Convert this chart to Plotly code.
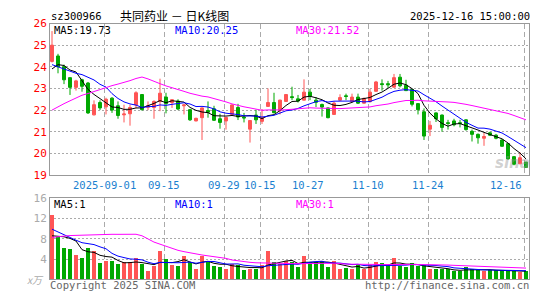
import plotly.graph_objects as go
import numpy as np

# ---------------- data ----------------
open_ = [24.25, 24.5, 24.0, 23.5, 23.05, 23.4, 23.25, 21.78, 22.35, 22.15,
         22.55, 22.2, 21.78, 21.83, 22.24, 22.72, 22.13, 22.12, 22.4, 22.6,
         22.35, 22.42, 22.2, 22.02, 21.5, 21.65, 21.98, 22.06, 21.6, 21.5,
         21.8, 22.12, 21.68, 21.12, 21.77, 21.48, 22.17, 22.35, 21.98, 22.4,
         22.62, 22.52, 22.46, 22.83, 22.46, 22.26, 22.1, 21.8, 22.46, 22.66,
         22.4, 22.6, 22.32, 22.39, 22.87, 23.22, 23.22, 23.06, 23.52, 23.15,
         22.95, 22.3, 21.92, 21.12, 21.87, 21.77, 21.42, 21.5, 21.42, 21.55,
         21.02, 20.88, 20.7, 20.95, 20.84, 20.62, 20.45, 19.85, 19.52, 19.6]
high = [25.65, 24.6, 24.1, 23.5, 23.4, 23.45, 23.3, 22.45, 22.45, 22.57,
        22.6, 22.4, 22.25, 22.25, 22.87, 22.72, 22.4, 22.45, 23.45, 22.8,
        22.5, 22.5, 22.28, 22.05, 21.65, 22.12, 22.4, 22.2, 21.83, 21.68,
        22.26, 22.29, 21.87, 21.54, 22.02, 22.05, 23.0, 22.8, 22.48, 22.74,
        23.08, 22.7, 23.42, 22.98, 22.6, 22.3, 22.12, 22.4, 22.73, 22.76,
        22.76, 22.76, 22.58, 22.98, 23.35, 23.42, 23.35, 23.67, 23.67, 23.4,
        22.98, 22.32, 22.08, 21.5, 21.9, 21.8, 21.55, 21.6, 21.55, 21.58,
        21.1, 20.92, 20.95, 21.0, 20.9, 20.65, 20.48, 19.88, 20.05, 19.6]
low = [24.2, 23.7, 23.2, 22.7, 22.9, 22.85, 21.82, 21.75, 22.0, 21.8,
       21.87, 21.6, 21.43, 21.28, 22.1, 21.98, 22.0, 21.6, 21.95, 21.85,
       22.1, 22.0, 21.8, 21.5, 21.48, 20.62, 21.65, 21.5, 21.14, 21.1,
       21.78, 21.54, 21.43, 20.5, 21.36, 21.36, 22.15, 21.85, 21.8, 22.38,
       22.46, 22.35, 22.45, 22.46, 22.14, 21.7, 21.62, 21.78, 22.42, 22.46,
       22.38, 22.28, 22.3, 22.35, 22.85, 22.9, 23.02, 23.03, 23.05, 22.88,
       22.17, 21.8, 20.62, 20.8, 21.45, 21.0, 21.1, 21.25, 21.2, 21.05,
       20.55, 20.45, 20.35, 20.8, 20.65, 20.3, 19.7, 19.45, 19.5, 19.33]
close = [25.0, 24.0, 23.4, 23.05, 23.35, 23.1, 21.87, 22.25, 22.1, 22.5,
         22.0, 21.75, 21.82, 22.12, 22.8, 22.02, 22.2, 22.4, 22.78, 22.3,
         22.48, 22.05, 22.24, 21.55, 21.62, 22.1, 21.9, 21.53, 21.43, 21.66,
         22.24, 21.68, 21.64, 21.52, 21.55, 21.65, 22.35, 21.88, 22.46, 22.72,
         22.58, 22.42, 22.83, 22.65, 22.36, 22.14, 21.65, 22.32, 22.58, 22.63,
         22.6, 22.32, 22.54, 22.83, 23.3, 23.18, 23.17, 23.5, 23.12, 22.9,
         22.27, 22.02, 20.8, 21.3, 21.6, 21.2, 21.38, 21.32, 21.38, 21.1,
         20.88, 20.72, 20.78, 20.84, 20.7, 20.33, 19.75, 19.5, 19.8, 19.35]
# closes of the 29 sessions before the window (only used for the moving averages)
prior_close = [19.2, 19.3, 19.1, 19.4, 19.3, 19.5, 19.4, 19.6, 19.5, 19.4,
               19.6, 19.7, 19.5, 19.8, 20.0, 24.8, 26.2, 25.6, 25.4, 24.7,
               25.0, 24.6, 24.2, 24.0, 23.7, 23.0, 23.6, 24.1, 23.8]
volume = [12.6, 8.3, 6.2, 6.0, 4.7, 4.1, 6.2, 5.6, 3.1, 3.5,
          3.5, 2.9, 3.3, 3.3, 4.1, 2.9, 1.6, 2.6, 5.6, 3.9,
          2.8, 2.6, 4.5, 3.3, 2.0, 4.5, 3.5, 2.5, 2.4, 2.0,
          3.0, 2.8, 1.8, 2.0, 2.0, 2.8, 5.5, 3.3, 2.9, 3.6,
          3.4, 2.4, 4.5, 3.3, 3.3, 3.5, 2.4, 3.6, 2.0, 2.2,
          1.9, 3.0, 2.0, 2.7, 3.4, 3.2, 2.8, 4.1, 2.6, 2.3,
          3.1, 2.5, 2.8, 2.0, 1.9, 1.9, 1.9, 1.6, 1.6, 2.3,
          2.0, 1.8, 1.6, 1.8, 1.8, 1.7, 1.8, 1.6, 1.4, 1.5]
prior_volume = [3.0, 3.5, 2.8, 3.2, 3.6, 3.0, 3.4, 2.9, 3.3, 3.8,
                3.1, 3.5, 3.2, 3.5, 12.0, 19.5, 22.0, 18.0, 16.5, 15.2,
                14.0, 12.5, 11.0, 9.5, 9.0, 8.5, 7.0, 7.6, 7.3]
tick_index = [9, 19, 29, 35, 43, 53, 63, 79]
tick_text = ["2025-09-01", "09-15", "09-29", "10-15", "10-27", "11-10", "11-24", "12-16"]
price_ticks = [19, 20, 21, 22, 23, 24, 25, 26]
vol_ticks = [4, 8, 12, 16]

# ---------------- derived ----------------
n = len(close)
idx = np.arange(n)


def moving_avg(prior, vals, w):
    s = np.array(prior + vals, dtype=float)
    out = np.convolve(s, np.ones(w) / w, mode="valid")
    return out[-len(vals):]


ma5, ma10, ma30 = (moving_avg(prior_close, close, w) for w in (5, 10, 30))
vma5, vma10, vma30 = (moving_avg(prior_volume, volume, w) for w in (5, 10, 30))

RED = "#ff5555"
GREEN = "#00a800"
bar_colors = [RED if c >= o else GREEN for o, c in zip(open_, close)]

W, H = 545, 300
L_PX, R_PX = 50, 529
px = lambda x: x / W
py = lambda y: 1 - y / H

MONO = "DejaVu Sans Mono"
CJK = "Noto Sans CJK SC"
grid_x = [t - 1 / 3 for t in tick_index]

fig = go.Figure()
fig.add_trace(go.Candlestick(
    x=idx, open=open_, high=high, low=low, close=close,
    increasing=dict(line=dict(color=RED, width=1), fillcolor=RED),
    decreasing=dict(line=dict(color=GREEN, width=1), fillcolor=GREEN),
    whiskerwidth=0, showlegend=False, hoverinfo="skip",
    xaxis="x", yaxis="y"))
for arr, col in ((ma5, "#000000"), (ma10, "#0000ff"), (ma30, "#ff00ff")):
    fig.add_trace(go.Scatter(x=idx, y=arr, mode="lines", line=dict(color=col, width=1),
                             showlegend=False, hoverinfo="skip", xaxis="x", yaxis="y"))
fig.add_trace(go.Bar(x=idx, y=volume, marker=dict(color=bar_colors, line=dict(width=0)),
                     width=0.8, showlegend=False, hoverinfo="skip", xaxis="x2", yaxis="y2"))
for arr, col in ((vma5, "#000000"), (vma10, "#0000ff"), (vma30, "#ff00ff")):
    fig.add_trace(go.Scatter(x=idx, y=arr, mode="lines", line=dict(color=col, width=1),
                             showlegend=False, hoverinfo="skip", xaxis="x2", yaxis="y2"))

axis_common = dict(showline=True, mirror=True, linecolor="#999999", linewidth=1,
                   zeroline=False, ticks="", fixedrange=True)
xa = dict(domain=[px(L_PX), px(R_PX)], range=[-1 / 3, (R_PX - 52) / 6],
          tickmode="array", tickvals=grid_x, showticklabels=False,
          showgrid=True, gridcolor="#aaaaaa", gridwidth=1, griddash="5px,3px",
          rangeslider=dict(visible=False), **axis_common)

fig.update_layout(
    width=W, height=H, margin=dict(l=0, r=0, t=0, b=0),
    paper_bgcolor="white", plot_bgcolor="white", bargap=0, showlegend=False,
    xaxis=dict(anchor="y", **xa),
    xaxis2=dict(anchor="y2", matches="x", **xa),
    yaxis=dict(domain=[py(176.7), py(18.3)], range=[19, 26], tickmode="array",
               tickvals=price_ticks, ticktext=[str(v) for v in price_ticks],
               tickfont=dict(family=MONO, size=11, color="#ff0000"),
               showgrid=True, gridcolor="#aaaaaa", griddash="2px,2px", anchor="x",
               **axis_common),
    yaxis2=dict(domain=[py(285.7), py(201)], range=[0, 16], tickmode="array",
                tickvals=vol_ticks, ticktext=[str(v) for v in vol_ticks],
                tickfont=dict(family=MONO, size=11, color="#aaaaaa"),
                showgrid=True, gridcolor="#aaaaaa", griddash="2px,2px", anchor="x2",
                **axis_common),
)

ann = []


def text(x, y, s, color="#000000", size=10, family=MONO, anchor="left", **kw):
    ann.append(dict(x=px(x), y=py(y), xref="paper", yref="paper", text=s, showarrow=False,
                    xanchor=anchor, yanchor="middle", borderpad=0,
                    font=dict(family=family, size=size, color=color), **kw))


text(50, 10, "sz300966", size=10.5)
text(119, 9.5, "共同药业 － 日K线图", size=12, family=CJK)
text(531, 10, "2025-12-16 15:00:00", size=10.5, anchor="right")
text(53, 25, "MA5:19.73", size=10.5)
text(174, 25.5, "MA10:20.25", "#0000ff", size=10.5)
text(295, 25, "MA30:21.52", "#ff00ff", size=10.5)
text(53, 207, "MA5:1", size=10.5)
text(174, 207, "MA10:1", "#0000ff", size=10.5)
text(295, 207, "MA30:1", "#ff00ff", size=10.5)
text(49, 292, "Copyright 2025 SINA.COM", "#666666", size=10.5)
text(530, 292, "http://finance.sina.com.cn", "#666666", size=10.5, anchor="right")
text(45, 286, "<i>x万</i>", "#aaaaaa", size=10, family=CJK, anchor="right")
text(512, 164, "<b><i>sina</i></b>", "rgba(150,150,150,0.45)", size=15, family="DejaVu Sans", anchor="center")

for i, (t, s) in enumerate(zip(grid_x, tick_text)):
    last = i == len(tick_text) - 1
    ann.append(dict(x=t, y=py(187), xref="x", yref="paper", text=s, showarrow=False,
                    xanchor="right" if last else "center", yanchor="middle",
                    font=dict(family=MONO, size=10.5, color="#1a7fd0")))

fig.update_layout(annotations=ann)
fig.write_html("out.html")
